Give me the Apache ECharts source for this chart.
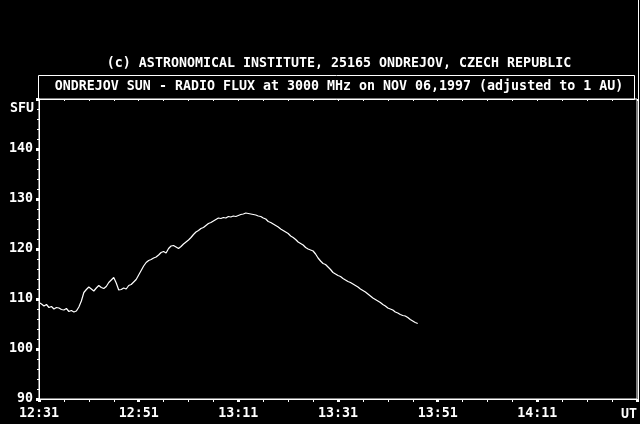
<!DOCTYPE html>
<html>
<head>
<meta charset="utf-8">
<script src="https://cdn.jsdelivr.net/npm/echarts@6/dist/echarts.min.js"></script>
<style>
html,body{margin:0;padding:0;background:#000;}
#c{width:640px;height:424px;}
</style>
</head>
<body>
<div id="c"></div>
<script>
var titleTop = '(c) ASTRONOMICAL INSTITUTE, 25165 ONDREJOV, CZECH REPUBLIC';
var titleMain = 'ONDREJOV SUN - RADIO FLUX at 3000 MHz on NOV 06,1997 (adjusted to 1 AU)';
var startHour = 12, startMin = 31;       // x axis origin 12:31 UT
var yUnit = 'SFU', xUnit = 'UT';
// minutes after 12:31 (half-minute samples)
var minutes = [0,0.5,1,1.5,2,2.5,3,3.5,4,4.5,5,5.5,6,6.5,7,7.5,8,8.5,9,9.5,10,10.5,11,11.5,12,12.5,13,13.5,14,14.5,15,15.5,16,16.5,17,17.5,18,18.5,19,19.5,20,20.5,21,21.5,22,22.5,23,23.5,24,24.5,25,25.5,26,26.5,27,27.5,28,28.5,29,29.5,30,30.5,31,31.5,32,32.5,33,33.5,34,34.5,35,35.5,36,36.5,37,37.5,38,38.5,39,39.5,40,40.5,41,41.5,42,42.5,43,43.5,44,44.5,45,45.5,46,46.5,47,47.5,48,48.5,49,49.5,50,50.5,51,51.5,52,52.5,53,53.5,54,54.5,55,55.5,56,56.5,57,57.5,58,58.5,59,59.5,60,60.5,61,61.5,62,62.5,63,63.5,64,64.5,65,65.5,66,66.5,67,67.5,68,68.5,69,69.5,70,70.5,71,71.5,72,72.5,73,73.5,74,74.5,75,75.5,76];
var flux = [109.3,109.0,108.6,108.9,108.3,108.5,108.0,108.3,108.2,107.9,107.8,108.1,107.5,107.7,107.4,107.6,108.4,109.6,111.3,111.9,112.4,112.0,111.6,112.2,112.7,112.3,112.1,112.5,113.3,113.8,114.3,113.2,111.8,111.9,112.2,112.0,112.7,112.9,113.4,113.9,114.8,115.7,116.6,117.3,117.7,117.9,118.2,118.4,118.8,119.3,119.5,119.2,120.1,120.6,120.7,120.4,120.1,120.5,121.0,121.4,121.8,122.3,122.9,123.4,123.7,124.1,124.3,124.7,125.1,125.3,125.6,125.9,126.2,126.1,126.3,126.2,126.5,126.4,126.6,126.5,126.7,126.9,127.0,127.2,127.1,127.0,126.9,126.8,126.6,126.5,126.2,126.0,125.5,125.3,125.0,124.7,124.4,124.0,123.7,123.4,123.1,122.6,122.3,121.9,121.4,121.1,120.8,120.3,120.0,119.8,119.6,119.0,118.2,117.6,117.1,116.9,116.4,115.9,115.3,115.0,114.7,114.5,114.1,113.8,113.5,113.3,113.0,112.7,112.4,112.0,111.7,111.4,111.0,110.6,110.2,109.9,109.6,109.3,108.9,108.6,108.2,108.0,107.8,107.4,107.2,106.9,106.7,106.6,106.3,105.9,105.6,105.3,105.1];

var FONT = 'DejaVu Sans Mono';
function fmtTime(v){
  var t = startHour*60 + startMin + v;
  var h = Math.floor(t/60), m = t%60;
  return h + ':' + (m<10?'0':'') + m;
}
var data = minutes.map(function(m,i){return [m, flux[i]];});
var chart = echarts.init(document.getElementById('c'));
var LF = 'bold 13.3px "DejaVu Sans Mono"';
chart.setOption({
  backgroundColor:'#000',
  animation:false,
  grid:{left:39,right:2,top:99,bottom:25,show:true,borderColor:'#fff',borderWidth:1,backgroundColor:'transparent'},
  xAxis:[{
    type:'value',min:0,max:120,interval:20,position:'bottom',
    axisLine:{show:true,lineStyle:{color:'#fff',width:1}},
    axisTick:{show:true,length:3,inside:false,lineStyle:{color:'#fff',width:3}},
    minorTick:{show:true,splitNumber:4,length:3,lineStyle:{color:'#fff',width:1}},
    splitLine:{show:false},
    axisLabel:{color:'#fff',fontFamily:FONT,fontWeight:'bold',fontSize:13.3,margin:8,
      formatter:function(v){return v===120?'':fmtTime(v);}}
  },{
    type:'value',min:0,max:120,interval:5,position:'top',
    axisLine:{show:false},
    axisTick:{show:true,inside:true,length:2,lineStyle:{color:'#fff',width:1}},
    axisLabel:{show:false},splitLine:{show:false}
  }],
  yAxis:{
    type:'value',min:90,max:150,interval:10,
    axisLine:{show:true,lineStyle:{color:'#fff',width:1}},
    axisTick:{show:true,length:3,inside:false,lineStyle:{color:'#fff',width:3}},
    minorTick:{show:true,splitNumber:5,length:2,lineStyle:{color:'#fff',width:1}},
    splitLine:{show:false},
    axisLabel:{color:'#fff',fontFamily:FONT,fontWeight:'bold',fontSize:13.3,margin:6,
      formatter:function(v){return v===150?'':String(v);}}
  },
  series:[{
    type:'line',xAxisIndex:0,data:data,showSymbol:false,symbol:'none',
    lineStyle:{color:'#fff',width:1.2},silent:true
  }],
  graphic:[
    {type:'text',x:339,y:64,style:{text:titleTop,fill:'#fff',font:LF,align:'center',verticalAlign:'middle'}},
    {type:'rect',shape:{x:38.5,y:75.5,width:596,height:24},style:{fill:'none',stroke:'#fff',lineWidth:1}},
    {type:'text',x:339,y:87,style:{text:titleMain,fill:'#fff',font:LF,align:'center',verticalAlign:'middle'}},
    {type:'text',x:34,y:109,style:{text:yUnit,fill:'#fff',font:LF,align:'right',verticalAlign:'middle'}},
    {type:'text',x:637,y:415,style:{text:xUnit,fill:'#fff',font:LF,align:'right',verticalAlign:'middle'}},
    {type:'line',shape:{x1:638.5,y1:0,x2:638.5,y2:399},style:{stroke:'#fff',lineWidth:1}}
  ]
});
</script>
</body>
</html>
